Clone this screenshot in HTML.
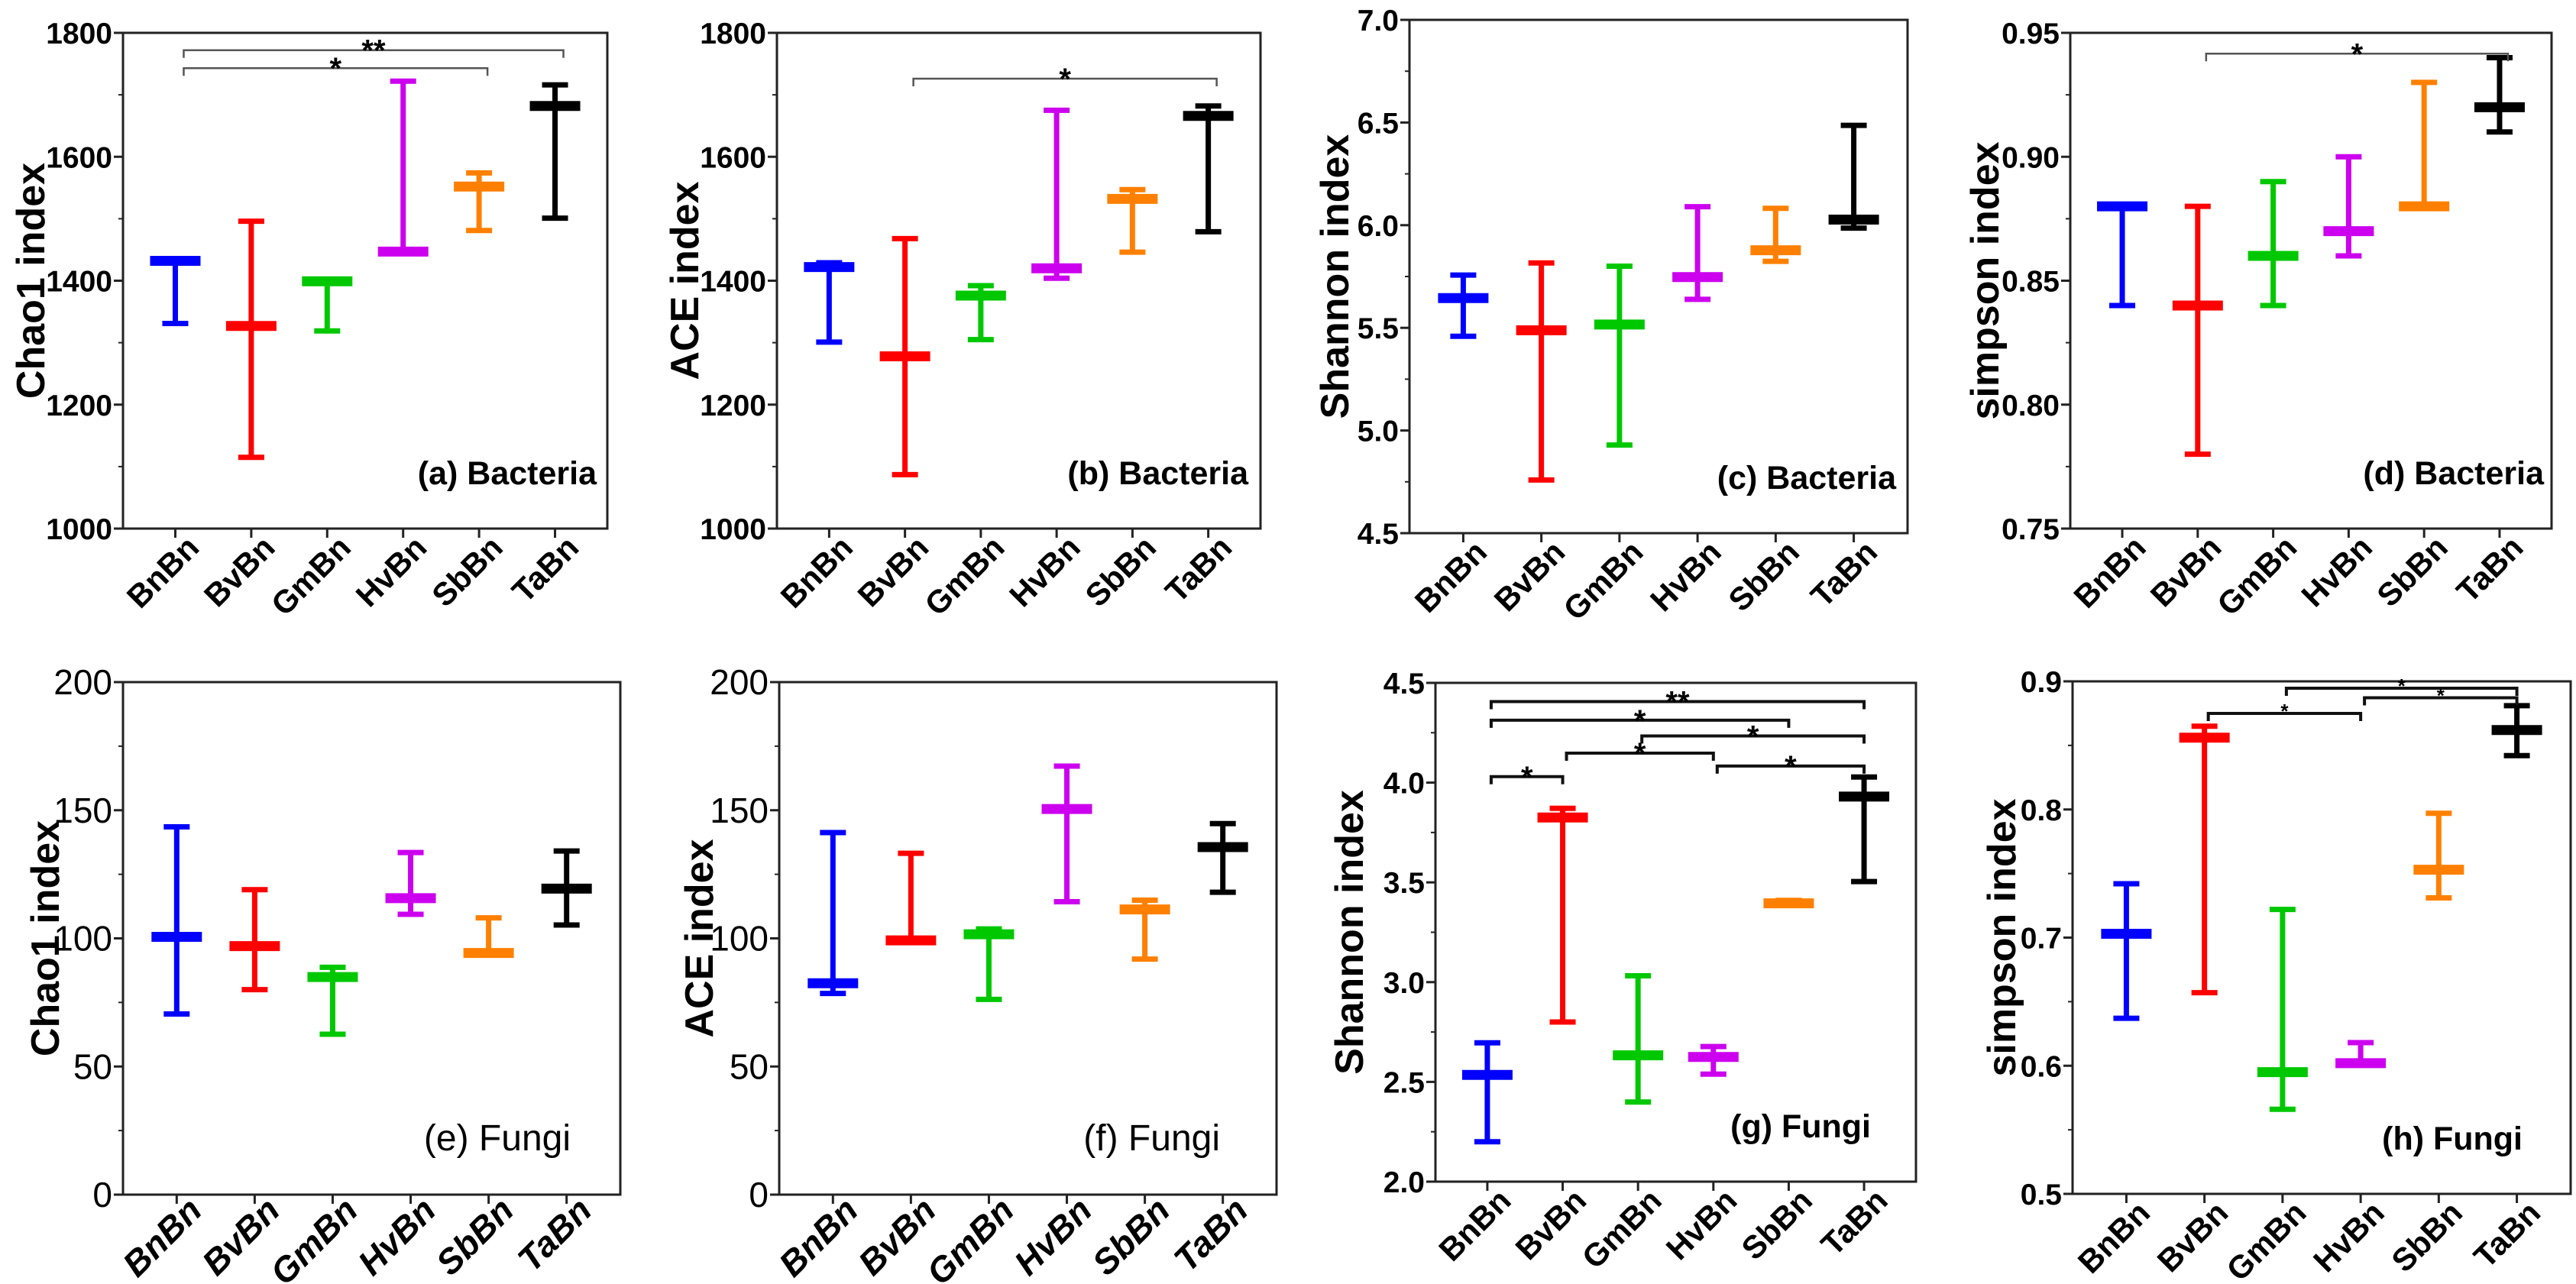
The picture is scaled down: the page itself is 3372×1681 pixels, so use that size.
<!DOCTYPE html>
<html><head><meta charset="utf-8">
<style>
html,body{margin:0;padding:0;background:#fff;}
svg{display:block;}
text{font-family:"Liberation Sans",Arial,sans-serif;}
</style></head>
<body>
<svg id="fig" xmlns="http://www.w3.org/2000/svg" width="3372" height="1681" viewBox="0 0 3372 1681"></svg>
<script>
const categories = ["BnBn","BvBn","GmBn","HvBn","SbBn","TaBn"];
const colors = ["#0000ff","#ff0000","#00c800","#cc00ee","#ff8000","#000000"];

// (a) Chao1 Bacteria
const means_a = [1432,1327,1399,1447,1552,1682];
const lows_a  = [1331,1115,1319,1447,1481,1501];
const highs_a = [1432,1496,1399,1722,1574,1716];
const brackets_a = [[0,5,1772,"**"],[0,4,1743,"*"]];
// (b) ACE Bacteria
const means_b = [1422,1278,1376,1420,1532,1666];
const lows_b  = [1301,1087,1305,1404,1446,1479];
const highs_b = [1429,1468,1392,1675,1547,1682];
const brackets_b = [[1,5,1726,"*"]];
// (c) Shannon Bacteria
const means_c = [5.645,5.488,5.516,5.747,5.878,6.027];
const lows_c  = [5.459,4.759,4.929,5.639,5.824,5.986];
const highs_c = [5.757,5.816,5.800,6.090,6.082,6.486];
const brackets_c = [];
// (d) simpson Bacteria
const means_d = [0.880,0.840,0.860,0.870,0.880,0.920];
const lows_d  = [0.840,0.780,0.840,0.860,0.880,0.910];
const highs_d = [0.880,0.880,0.890,0.900,0.930,0.940];
const brackets_d = [[1,5,0.9416,"*"]];
// (e) Chao1 Fungi
const means_e = [100.6,97,84.9,115.7,94.3,119.4];
const lows_e  = [70.5,80,62.6,109.4,94.3,105.2];
const highs_e = [143.5,119,88.7,133.5,108,134.1];
const brackets_e = [];
// (f) ACE Fungi
const means_f = [82.5,99.2,101.6,150.5,111.3,135.6];
const lows_f  = [78.5,99.2,76.2,114.3,91.9,118];
const highs_f = [141.3,133.2,103.7,167.2,114.9,144.8];
const brackets_f = [];
// (g) Shannon Fungi
const means_g = [2.535,3.825,2.633,2.625,3.395,3.930];
const lows_g  = [2.200,2.800,2.399,2.539,3.385,3.504];
const highs_g = [2.696,3.871,3.032,2.677,3.410,4.028];
const brackets_g = [[0,5,4.406,"**"],[0,4,4.313,"*"],[2,5,4.234,"*"],[1,3,4.148,"*"],[3,5,4.083,"*"],[0,1,4.030,"*"]];
// (h) simpson Fungi
const means_h = [0.703,0.856,0.595,0.602,0.753,0.862];
const lows_h  = [0.637,0.657,0.566,0.602,0.731,0.842];
const highs_h = [0.742,0.865,0.722,0.618,0.797,0.881];
const brackets_h = [[1,3,0.875,"*"],[2,5,0.8946,"*"],[3,5,0.8872,"*"]];

const ticks_a=[1000,1200,1400,1600,1800], ticks_c=[4.5,5.0,5.5,6.0,6.5,7.0], ticks_d=[0.75,0.80,0.85,0.90,0.95],
      ticks_e=[0,50,100,150,200], ticks_g=[2.0,2.5,3.0,3.5,4.0,4.5], ticks_h=[0.5,0.6,0.7,0.8,0.9];

const panels = [
 {id:"a",x0:161,x1:795,y0:43,y1:692,ymin:1000,ymax:1800,ticks:ticks_a,dec:0,title:"Chao1 index",tx:41,label:"(a)  Bacteria",lo:14,m:means_a,l:lows_a,h:highs_a,br:brackets_a,bs:"thin"},
 {id:"b",x0:1017,x1:1650,y0:43,y1:692,ymin:1000,ymax:1800,ticks:ticks_a,dec:0,title:"ACE index",tx:897,label:"(b)  Bacteria",lo:16,m:means_b,l:lows_b,h:highs_b,br:brackets_b,bs:"thin"},
 {id:"c",x0:1845,x1:2497,y0:26,y1:698,ymin:4.5,ymax:7.0,ticks:ticks_c,dec:1,title:"Shannon index",tx:1748,label:"(c)  Bacteria",lo:15,m:means_c,l:lows_c,h:highs_c,br:brackets_c,bs:"thin"},
 {id:"d",x0:2710,x1:3340,y0:43,y1:692,ymin:0.75,ymax:0.95,ticks:ticks_d,dec:2,title:"simpson index",tx:2599,label:"(d)  Bacteria",lo:10,m:means_d,l:lows_d,h:highs_d,br:brackets_d,bs:"thin"},
 {id:"e",x0:161,x1:812,y0:893,y1:1564,ymin:0,ymax:200,ticks:ticks_e,dec:0,title:"Chao1 index",tx:60,label:"(e)  Fungi",lo:65,m:means_e,l:lows_e,h:highs_e,br:brackets_e,bs:"thin",narrow:true},
 {id:"f",x0:1020,x1:1671,y0:893,y1:1564,ymin:0,ymax:200,ticks:ticks_e,dec:0,title:"ACE index",tx:916,label:"(f)  Fungi",lo:74,m:means_f,l:lows_f,h:highs_f,br:brackets_f,bs:"thin",narrow:true},
 {id:"g",x0:1879,x1:2508,y0:894,y1:1547,ymin:2.0,ymax:4.5,ticks:ticks_g,dec:1,title:"Shannon index",tx:1767,label:"(g)  Fungi",lo:59,m:means_g,l:lows_g,h:highs_g,br:brackets_g,bs:"thick"},
 {id:"h",x0:2713,x1:3365,y0:892,y1:1563,ymin:0.5,ymax:0.9,ticks:ticks_h,dec:1,title:"simpson index",tx:2621,label:"(h)  Fungi",lo:63,m:means_h,l:lows_h,h:highs_h,br:brackets_h,bs:"thick",small:true}
];

const NS="http://www.w3.org/2000/svg";
const svg=document.getElementById("fig");
function mk(tag,attrs,parent,txt){const e=document.createElementNS(NS,tag);for(const k in attrs)e.setAttribute(k,attrs[k]);if(txt!==undefined)e.textContent=txt;parent.appendChild(e);return e;}

panels.forEach(p=>{
  const g=mk("g",{},svg);
  
  
  const W=p.x1-p.x0, pad=W*0.108;
  const xs=i=>p.x0+pad+i*(W-2*pad)/5;
  const ys=v=>p.y1-(v-p.ymin)/(p.ymax-p.ymin)*(p.y1-p.y0);
  const fam=p.narrow?'"Liberation Sans Narrow","Liberation Sans",sans-serif':'"Liberation Sans",sans-serif';
  const fr=mk("rect",{x:p.x0,y:p.y0,width:W,height:p.y1-p.y0,fill:"none",stroke:"#222","stroke-width":3},g);
  
  
  const yax=mk("g",{},g);
  
  
  p.ticks.forEach((t,i)=>{
    const y=ys(t);
    mk("line",{x1:p.x0-12,x2:p.x0,y1:y,y2:y,stroke:"#222","stroke-width":3},yax);
    if(i<p.ticks.length-1){const ym=ys((t+p.ticks[i+1])/2);mk("line",{x1:p.x0-6,x2:p.x0,y1:ym,y2:ym,stroke:"#222","stroke-width":2},yax);}
    const tl=mk("text",{x:p.x0-14,y:y+(p.narrow?16:14),"text-anchor":"end","font-size":p.narrow?46:39,"font-weight":p.narrow?"normal":"bold","font-family":fam},yax,t.toFixed(p.dec));
    
    
  });
  const cy=(p.y0+p.y1)/2;
  const tt=mk("text",{x:p.tx,y:cy,"text-anchor":"middle","dominant-baseline":"central","font-size":52,"font-weight":"bold",transform:`rotate(-90 ${p.tx} ${cy})`},g,p.title);
  
  
  categories.forEach((c,i)=>{
    const x=xs(i);
    mk("line",{x1:x,x2:x,y1:p.y1,y2:p.y1+12,stroke:"#222","stroke-width":3},g);
    const f=p.narrow?46:42, cap=0.72*f*0.707;
    const lx=x+12+cap, ly=p.y1+cap+(p.narrow?0:6);
    const xl=mk("text",{x:lx,y:ly,"text-anchor":"end","font-size":f,"font-weight":"bold","font-style":p.narrow?"italic":"normal","font-family":fam,transform:`rotate(-45 ${lx} ${ly})`},g,c);
    
    
  });
  categories.forEach((c,i)=>{
    const x=xs(i), col=colors[i];
    const eg=mk("g",{},g);
    
    
    mk("line",{x1:x,x2:x,y1:ys(p.l[i]),y2:ys(p.h[i]),stroke:col,"stroke-width":7},eg);
    mk("line",{x1:x-17,x2:x+17,y1:ys(p.l[i]),y2:ys(p.l[i]),stroke:col,"stroke-width":7},eg);
    mk("line",{x1:x-17,x2:x+17,y1:ys(p.h[i]),y2:ys(p.h[i]),stroke:col,"stroke-width":7},eg);
    mk("line",{x1:x-33,x2:x+33,y1:ys(p.m[i]),y2:ys(p.m[i]),stroke:col,"stroke-width":13},eg);
  });
  p.br.forEach(b=>{
    const bg=mk("g",{},g);
    
    
    const xa=xs(b[0])+(p.bs==="thin"?11:5), xb=xs(b[1])+(p.bs==="thin"?11:0), y=ys(b[2]);
    const sw=p.bs==="thin"?2.5:4, st=p.bs==="thin"?"#555":"#111";
    mk("polyline",{points:`${xa},${y+10} ${xa},${y} ${xb},${y} ${xb},${y+10}`,fill:"none",stroke:st,"stroke-width":sw},bg);
    mk("text",{x:(xa+xb)/2,y:y+(p.small?6:14),"text-anchor":"middle","font-size":p.small?26:40,"font-weight":"bold"},bg,b[3]);
  });
  const pl=mk("text",{x:p.x1-p.lo,y:p.y1-58,"text-anchor":"end","font-size":p.narrow?48:43,"font-weight":p.narrow?"normal":"bold","font-family":fam},g,p.label);
  
  
});
</script>
</body></html>
